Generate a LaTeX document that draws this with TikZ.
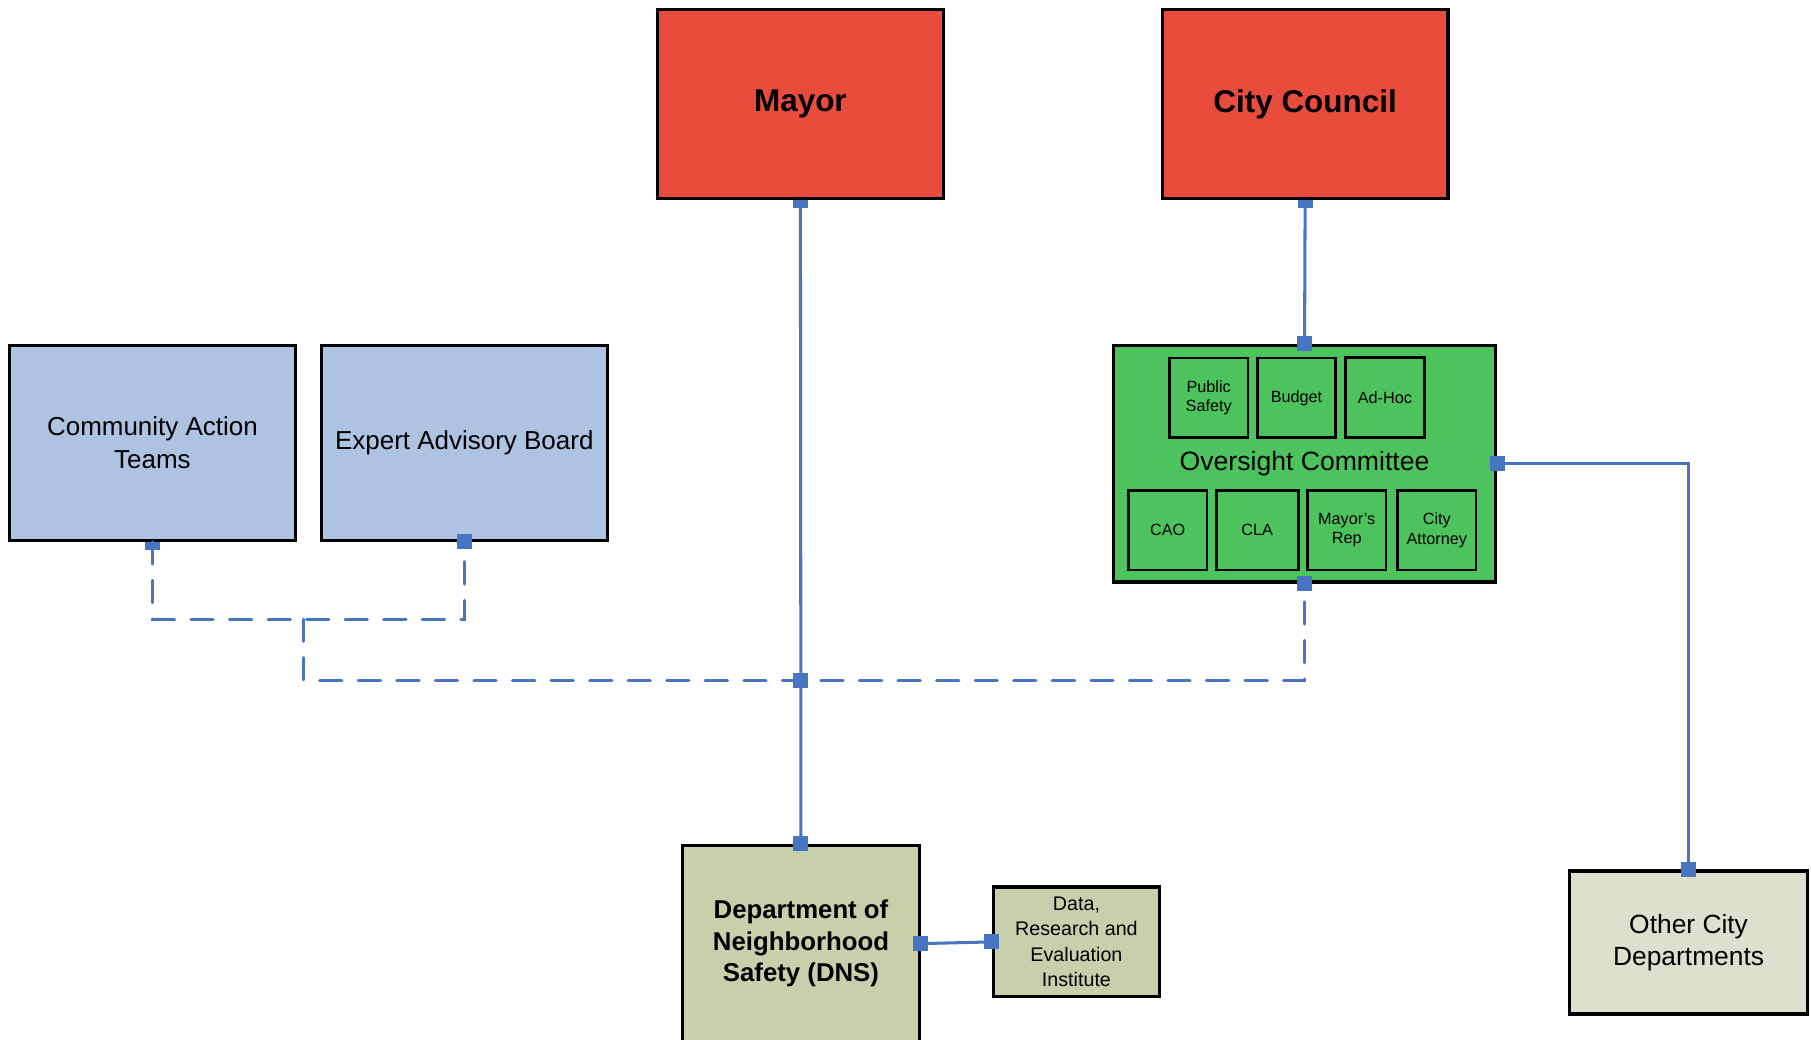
\documentclass[tikz,border=0pt]{standalone}
\usepackage{fontspec}
\setmainfont{Liberation Sans}
\usetikzlibrary{positioning}

\definecolor{chiefred}{RGB}{231,76,61}
\definecolor{boardblue}{RGB}{174,194,226}
\definecolor{panelgreen}{RGB}{76,195,92}
\definecolor{dnsolive}{RGB}{200,207,171}
\definecolor{deptgrey}{RGB}{221,224,204}
\definecolor{linkblue}{RGB}{72,117,193}

\begin{document}
\begin{tikzpicture}[x=0.02cm,y=-0.02cm,
    box/.style={draw=black, line width=1.6pt, rectangle, inner sep=2pt, align=center},
    chief/.style={box, fill=chiefred, minimum width=4.95cm, minimum height=3.27cm,
      font=\fontsize{15.5}{18}\selectfont\bfseries},
    board/.style={box, fill=boardblue, minimum width=4.95cm, minimum height=3.37cm,
      font=\fontsize{12.8}{16}\selectfont},
    seat/.style={box, line width=1.4pt, fill=panelgreen, minimum width=1.36cm,
      minimum height=1.38cm, inner sep=0pt, font=\fontsize{8}{9.7}\selectfont},
    link/.style={linkblue, line width=1.5pt},
    dlink/.style={link, dash pattern=on 11pt off 8pt, line cap=round},
    portsq/.style={fill=linkblue, rectangle, minimum size=7.4pt, inner sep=0pt},
    tab/.style={fill=linkblue, rectangle, minimum width=7.4pt, minimum height=3.7pt,
      inner sep=0pt, anchor=north}]
  \useasboundingbox (0,0) rectangle (1568,900);

  % city government
  \node[chief] (mayor) at (693,90) {Mayor};
  \node[chief] (council) at (1130,90) {City Council};

  % advisory boxes
  \node[board] (cat) at (132,383.5) {Community Action\\Teams};
  \node[board] (eab) at (402,383.5) {Expert Advisory Board};

  % oversight committee and its seats
  \node[box, fill=panelgreen, minimum width=6.62cm, minimum height=4.1cm] (oversight) at (1129.5,401.5) {};
  \node[font=\fontsize{13.1}{16}\selectfont] (octitle) at (1129.5,401) {Oversight Committee};
  \node[seat] (pubsafety) at (1046.5,344.5) {Public\\Safety};
  \node[seat] (budget) at (1122.5,344.5) {Budget};
  \node[seat] (adhoc) at (1199,344) {Ad-Hoc};
  \node[seat] (cao) at (1011,459) {CAO};
  \node[seat, minimum width=1.42cm] (cla) at (1088.5,459) {CLA};
  \node[seat] (mrep) at (1166,459) {Mayor's\\Rep};
  \node[seat] (attorney) at (1244,459) {City\\Attorney};

  % departments
  \node[box, fill=dnsolive, minimum width=4.1cm, minimum height=3.4cm,
    font=\fontsize{12.7}{15.6}\selectfont\bfseries] (dns) at (693.5,817)
    {Department of\\Neighborhood\\Safety (DNS)};
  \node[box, fill=dnsolive, minimum width=2.88cm, minimum height=1.9cm,
    font=\fontsize{9.7}{12.5}\selectfont] (dre) at (932,815.5)
    {Data,\\Research and\\Evaluation\\Institute};
  \node[box, fill=deptgrey, minimum width=4.12cm, minimum height=2.48cm,
    font=\fontsize{13}{16}\selectfont] (other) at (1462,816) {Other City\\Departments};

  % solid links
  \coordinate (hub) at (693,589);
  \coordinate (advisory) at (263,536);
  \draw[link] (mayor.south) -- (dns.north);
  \draw[link] (council.south) -- (oversight.north);
  \draw[link] (oversight.east) -| (other.north);
  \draw[link] (dns.east) -- (dre.west);

  % dashed links
  \draw[dlink] (cat.south) |- (advisory) -| (eab.south);
  \draw[dlink] (advisory) |- (hub) -| (oversight.south);

  % ports
  \node[tab] at (mayor.south) {};
  \node[tab] at (council.south) {};
  \node[tab] at (cat.south) {};
  \foreach \p in {eab.south, oversight.north, oversight.south, oversight.east,
      other.north, dns.north, dns.east, dre.west, hub}
    \node[portsq] at (\p) {};
\end{tikzpicture}
\end{document}
